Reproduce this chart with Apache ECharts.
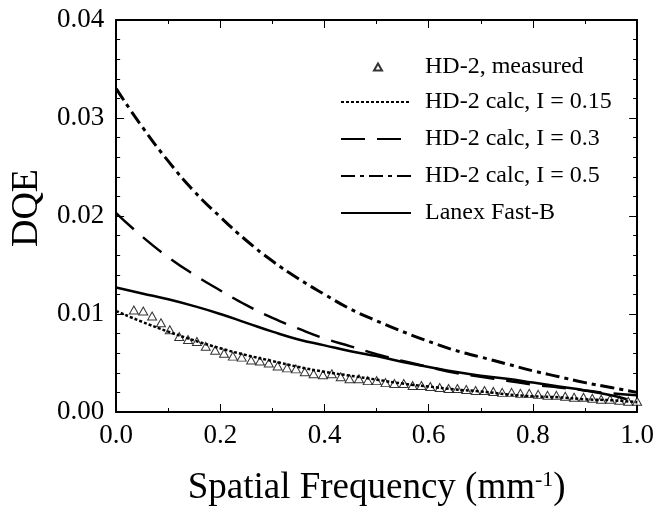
<!DOCTYPE html>
<html>
<head>
<meta charset="utf-8">
<script src="https://cdn.jsdelivr.net/npm/echarts@6/dist/echarts.min.js"></script>
<style>
  html, body { margin: 0; padding: 0; background: #fff; }
  #chart { width: 657px; height: 512px; }
</style>
</head>
<body>
<div id="chart"></div>
<script>
// === DATA ===
// calc curves share one frequency grid (mm^-1)
const calcFreq = [0, 0.05, 0.1, 0.15, 0.2, 0.25, 0.3, 0.35, 0.4, 0.45, 0.5,
                  0.55, 0.6, 0.65, 0.7, 0.75, 0.8, 0.85, 0.9, 0.95, 1.0];
const calc015 = [0.0103, 0.0092, 0.0082, 0.0073, 0.0065, 0.0058, 0.0052, 0.0046, 0.0041, 0.0037, 0.0033,
                 0.0029, 0.0026, 0.0023, 0.0021, 0.0018, 0.0016, 0.0015, 0.0013, 0.0012, 0.0010];
const calc03 = [0.0203, 0.0179, 0.0158, 0.0140, 0.0124, 0.0109, 0.0096, 0.0085, 0.0075, 0.0067, 0.0059,
                0.0052, 0.0046, 0.0040, 0.0036, 0.0032, 0.0028, 0.0025, 0.0022, 0.0019, 0.0017];
const calc05 = [0.0330, 0.0291, 0.0256, 0.0225, 0.0199, 0.0175, 0.0154, 0.0136, 0.0120, 0.0105, 0.0093,
                0.0082, 0.0072, 0.0063, 0.0056, 0.0049, 0.0042, 0.0036, 0.0030, 0.0025, 0.0020];

const lanexFreq = [0, 0.05, 0.1, 0.15, 0.2, 0.25, 0.3, 0.35, 0.4, 0.45, 0.5,
                   0.55, 0.6, 0.65, 0.7, 0.75, 0.8, 0.85, 0.9, 0.95, 0.98];
const lanex = [0.0127, 0.0121, 0.0115, 0.0108, 0.0100, 0.0091, 0.0082, 0.0074, 0.0068, 0.0062, 0.0057,
               0.0051, 0.0046, 0.0041, 0.0037, 0.0034, 0.0030, 0.0026, 0.0022, 0.0017, 0.0013];

const measFreq = [0.034, 0.052, 0.069, 0.086, 0.103, 0.121, 0.138, 0.155, 0.172, 0.190,
                  0.207, 0.224, 0.241, 0.259, 0.276, 0.293, 0.310, 0.328, 0.345, 0.362,
                  0.379, 0.397, 0.414, 0.431, 0.448, 0.466, 0.483, 0.500, 0.517, 0.534,
                  0.552, 0.569, 0.586, 0.603, 0.621, 0.638, 0.655, 0.672, 0.690, 0.707,
                  0.724, 0.741, 0.759, 0.776, 0.793, 0.810, 0.828, 0.845, 0.862, 0.879,
                  0.897, 0.914, 0.931, 0.948, 0.966, 0.983, 1.000];
const measured = [0.0104, 0.0103, 0.0098, 0.0091, 0.0084, 0.0077, 0.0074, 0.0072, 0.0067, 0.0063,
                  0.0060, 0.0057, 0.0056, 0.0053, 0.0052, 0.0050, 0.0047, 0.0045, 0.0044, 0.0041,
                  0.0039, 0.0038, 0.0039, 0.0036, 0.0034, 0.0034, 0.0032, 0.0032, 0.0030, 0.0029,
                  0.0029, 0.0027, 0.0027, 0.0026, 0.0025, 0.0024, 0.0024, 0.0023, 0.0022, 0.0022,
                  0.0021, 0.0020, 0.0020, 0.0019, 0.0019, 0.0018, 0.0017, 0.0017, 0.0016, 0.0015,
                  0.0015, 0.0014, 0.0013, 0.0013, 0.0012, 0.0011, 0.0011];

const names = ['HD-2, measured', 'HD-2 calc, I = 0.15', 'HD-2 calc, I = 0.3', 'HD-2 calc, I = 0.5', 'Lanex Fast-B'];

// === HELPERS ===
const FONT = '"Liberation Serif", "DejaVu Serif", serif';
const zip = (xs, ys) => xs.map((x, i) => [x, ys[i]]);

function lineSeries(name, xs, ys, type, width) {
    return {
        name: name,
        type: 'line',
        data: zip(xs, ys),
        smooth: true,
        symbol: 'none',
        showSymbol: false,
        z: 3,
        lineStyle: { color: '#000', width: width, type: type, cap: 'butt' },
        itemStyle: { color: '#000' }
    };
}

// frame axis: line + inward ticks, optional labels
function frameAxis(extra, split) {
    return Object.assign({
        type: 'value',
        axisLine: { show: true, onZero: false, lineStyle: { color: '#000', width: 2 } },
        axisTick: { show: true, inside: true, length: 8, lineStyle: { color: '#000', width: 1 } },
        minorTick: { show: true, splitNumber: split, length: 4, lineStyle: { color: '#000', width: 1 } },
        splitLine: { show: false },
        minorSplitLine: { show: false }
    }, extra);
}

// === CHART ===
const chart = echarts.init(document.getElementById('chart'));

const legendText = { fontFamily: FONT, fontSize: 24, color: '#000' };

const option = {
    animation: false,
    backgroundColor: '#fff',
    textStyle: { fontFamily: FONT, color: '#000' },
    grid: { left: 116, right: 17, top: 20, bottom: 97 },
    legend: [
        {
            data: [names[0]],
            left: 373, top: 55, padding: 0,
            itemWidth: 8, itemHeight: 7,
            textStyle: Object.assign({ padding: [0, 0, 0, 38] }, legendText)
        },
        {
            data: names.slice(1),
            orient: 'vertical',
            left: 340, top: 90, padding: 0,
            itemWidth: 70, itemHeight: 14, itemGap: 13,
            itemStyle: { opacity: 0 },
            textStyle: Object.assign({ padding: [0, 0, 0, 9] }, legendText)
        }
    ],
    xAxis: [
        frameAxis({
            min: 0, max: 1, interval: 0.2,
            axisLabel: {
                fontFamily: FONT, fontSize: 27, color: '#000', margin: 10,
                formatter: v => v.toFixed(1)
            },
            name: 'Spatial Frequency (mm{sup|-1})',
            nameLocation: 'middle', nameGap: 57,
            nameTextStyle: {
                fontFamily: FONT, fontSize: 37, color: '#000',
                rich: { sup: { fontFamily: FONT, fontSize: 22, color: '#000', padding: [0, 0, 17, 0] } }
            }
        }, 2),
        frameAxis({
            min: 0, max: 1, interval: 0.2, position: 'top',
            axisLabel: { show: false }
        }, 2)
    ],
    yAxis: [
        frameAxis({
            min: 0, max: 0.04, interval: 0.01,
            axisLabel: {
                fontFamily: FONT, fontSize: 27, color: '#000', margin: 12,
                formatter: v => v.toFixed(2)
            },
            name: 'DQE',
            nameLocation: 'middle', nameGap: 70, nameRotate: 90,
            nameTextStyle: { fontFamily: FONT, fontSize: 38, color: '#000', padding: [0, 0, 0, 16] }
        }, 5),
        frameAxis({
            min: 0, max: 0.04, interval: 0.01, position: 'right',
            axisLabel: { show: false }
        }, 5)
    ],
    series: [
        {
            name: names[0],
            type: 'scatter',
            data: zip(measFreq, measured),
            symbol: 'triangle',
            symbolSize: [9, 8],
            z: 2,
            itemStyle: { color: '#fff', borderColor: '#000', borderWidth: 1 }
        },
        lineSeries(names[1], calcFreq, calc015, [3, 2], 2.5),
        lineSeries(names[2], calcFreq, calc03, [24, 12], 2.5),
        lineSeries(names[3], calcFreq, calc05, [14, 5, 4, 5], 3),
        lineSeries(names[4], lanexFreq, lanex, 'solid', 2.5)
    ]
};

chart.setOption(option);
window.addEventListener('resize', function () { chart.resize(); });
</script>
</body>
</html>
